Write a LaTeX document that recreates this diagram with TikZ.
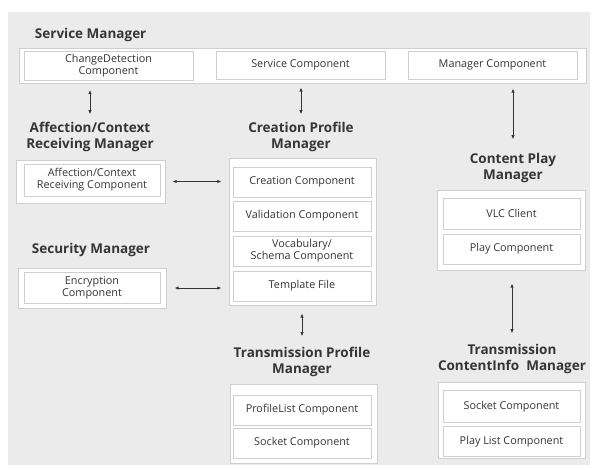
\documentclass[tikz,border=0pt]{standalone}
\usepackage{fontspec}
\setmainfont{Open Sans}
\usepackage{xcolor}
\usetikzlibrary{arrows.meta, calc, positioning}

\definecolor{panelgray}{HTML}{EBEBEB}
\definecolor{framegray}{HTML}{CFCFCF}
\definecolor{textgray}{HTML}{353535}

\tikzset{
    mgrbox/.style={draw=framegray, fill=white, line width=0.6pt, inner sep=0pt},
    compbox/.style={draw=framegray, fill=white, line width=0.5pt, align=center, inner sep=1pt, text=textgray, font=\fontsize{7.7}{8.6}\selectfont},
    mgrtitle/.style={align=center, text=textgray, font=\fontsize{9.6}{11.2}\selectfont\bfseries},
    link/.style={{Latex[length=3pt,width=2.4pt]}-{Latex[length=3pt,width=2.4pt]}, line width=0.7pt, draw=textgray}
}

\begin{document}
\begin{tikzpicture}[x=0.025cm, y=-0.025cm]
    \useasboundingbox (0,0) rectangle (593,469);
    % grey panel
    \fill[panelgray] (8,12) rectangle (590,465);

    % Service Manager
    \node[mgrtitle, anchor=west] (smtitle) at (30,35) {Service Manager};
    \node[mgrbox, minimum width=567*0.025cm, minimum height=35*0.025cm] (smmgr) at (302.5,65.5) {};
    \node[compbox, minimum width=169*0.025cm, minimum height=29*0.025cm] (cdcomp) at (108.5,65.5) {ChangeDetection\\Component};
    \node[compbox, minimum width=169*0.025cm, minimum height=28*0.025cm] (svccomp) at (300.5,65) {Service Component};
    \node[compbox, minimum width=169*0.025cm, minimum height=28*0.025cm] (mgrcomp) at (492.5,65) {Manager Component};

    % Affection/Context Receiving Manager
    \node[mgrtitle] (acrtitle) at (90,137) {Affection/Context\\Receiving Manager};
    \node[mgrbox, minimum width=149*0.025cm, minimum height=43*0.025cm] (acrmgr) at (90.5,181.5) {};
    \node[compbox, minimum width=136*0.025cm, minimum height=32*0.025cm] (acrcomp) at (92,180) {Affection/Context\\Receiving Component};

    % Security Manager
    \node[mgrtitle] (sectitle) at (91,250) {Security Manager};
    \node[mgrbox, minimum width=148*0.025cm, minimum height=40*0.025cm] (secmgr) at (92,288) {};
    \node[compbox, minimum width=136*0.025cm, minimum height=31*0.025cm] (enccomp) at (92,287.5) {Encryption\\Component};

    % Creation Profile Manager
    \node[mgrtitle] (cptitle) at (301,137) {Creation Profile\\Manager};
    \node[mgrbox, minimum width=147*0.025cm, minimum height=147*0.025cm] (cpmgr) at (302.5,231.5) {};
    \node[compbox, minimum width=138*0.025cm, minimum height=30*0.025cm] (crcomp) at (302,182) {Creation Component};
    \node[compbox, minimum width=138*0.025cm, minimum height=30*0.025cm] (valcomp) at (302,216) {Validation Component};
    \node[compbox, minimum width=138*0.025cm, minimum height=30*0.025cm] (voccomp) at (302,251) {Vocabulary/\\Schema Component};
    \node[compbox, minimum width=138*0.025cm, minimum height=30*0.025cm] (tplfile) at (302,286) {Template File};

    % Transmission Profile Manager
    \node[mgrtitle] (tptitle) at (302,362) {Transmission Profile\\Manager};
    \node[mgrbox, minimum width=147*0.025cm, minimum height=79*0.025cm] (tpmgr) at (303.5,423.5) {};
    \node[compbox, minimum width=138*0.025cm, minimum height=30*0.025cm] (plcomp) at (302,410) {ProfileList Component};
    \node[compbox, minimum width=138*0.025cm, minimum height=30*0.025cm] (tpsock) at (302,443) {Socket Component};

    % Content Play Manager
    \node[mgrtitle] (cpltitle) at (513,168) {Content Play\\Manager};
    \node[mgrbox, minimum width=148*0.025cm, minimum height=80*0.025cm] (cplmgr) at (511,230) {};
    \node[compbox, minimum width=137*0.025cm, minimum height=31*0.025cm] (vlccomp) at (511.5,213.5) {VLC Client};
    \node[compbox, minimum width=137*0.025cm, minimum height=30*0.025cm] (playcomp) at (511.5,249) {Play Component};

    % Transmission ContentInfo Manager
    \node[mgrtitle] (tcititle) at (512,359) {Transmission\\ContentInfo~~Manager};
    \node[mgrbox, minimum width=147*0.025cm, minimum height=76*0.025cm] (tcimgr) at (511.5,420) {};
    \node[compbox, minimum width=137*0.025cm, minimum height=32*0.025cm] (tcisock) at (511.5,406.5) {Socket Component};
    \node[compbox, minimum width=137*0.025cm, minimum height=30*0.025cm] (pllcomp) at (511.5,441.5) {Play List Component};

    % links
    \draw[link, shorten <=9.5*0.025cm, shorten >=3*0.025cm] (cdcomp.south -| acrtitle.north) -- (acrtitle.north);
    \draw[link, shorten <=8*0.025cm, shorten >=3*0.025cm] (svccomp.south -| cptitle.north) -- (cptitle.north);
    \draw[link, shorten <=5*0.025cm, shorten >=9*0.025cm] (smmgr.south -| cpltitle.north) -- (cpltitle.north);
    \draw[link, shorten <=7*0.025cm, shorten >=7*0.025cm] (acrmgr.east) -- (acrmgr.east -| cpmgr.west);
    \draw[link, shorten <=8*0.025cm, shorten >=7*0.025cm] (secmgr.east) -- (secmgr.east -| cpmgr.west);
    \draw[link, shorten <=8*0.025cm, shorten >=6*0.025cm] (cpmgr.south -| tptitle.north) -- (tptitle.north);
    \draw[link, shorten <=13*0.025cm, shorten >=6*0.025cm] (cplmgr.south -| tcititle.north) -- (tcititle.north);
\end{tikzpicture}
\end{document}
